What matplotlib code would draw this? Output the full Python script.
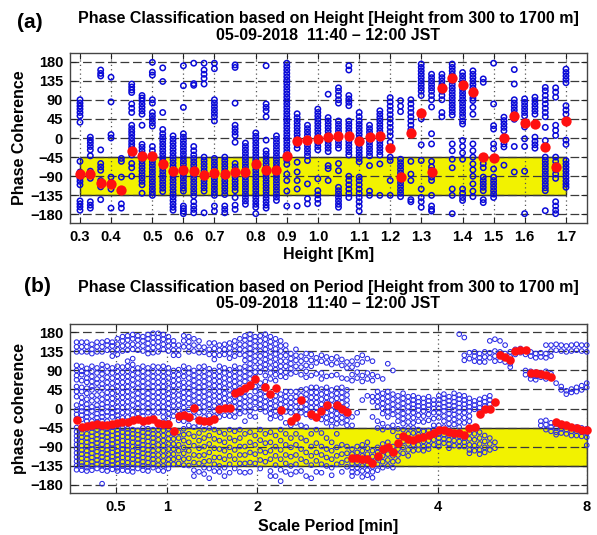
import matplotlib
matplotlib.use('Agg')
import matplotlib.pyplot as plt
from matplotlib.patches import Rectangle

plt.rcParams['font.family'] = ['Liberation Sans', 'DejaVu Sans']
plt.rcParams['font.weight'] = 'bold'

# ---------------- Panel (a) data ----------------
heights_km = [0.30, 0.33, 0.36, 0.39, 0.42, 0.45, 0.48, 0.51, 0.54, 0.57, 0.60, 0.63,
              0.66, 0.69, 0.72, 0.75, 0.78, 0.81, 0.84, 0.87, 0.90, 0.93, 0.96, 0.99,
              1.02, 1.05, 1.08, 1.11, 1.14, 1.17, 1.20, 1.23, 1.26, 1.29, 1.32, 1.35,
              1.38, 1.41, 1.44, 1.47, 1.50, 1.53, 1.56, 1.59, 1.62, 1.65, 1.68, 1.71]
a_tick_pos = [0.30, 0.39, 0.51, 0.60, 0.69, 0.81, 0.90, 0.99, 1.11, 1.20, 1.29, 1.41, 1.50, 1.59, 1.71]
a_tick_labels = ['0.3', '0.4', '0.5', '0.6', '0.7', '0.8', '0.9', '1.0', '1.1', '1.2', '1.3',
                 '1.4', '1.5', '1.6', '1.7']
red_a = [-85, -85, -106, -109, -122, -31, -42, -42, -61, -77, -75, -77, -88, -83, -85, -79,
         -79, -61, -75, -75, -43, -8, -4, -2, 2, 5, 5, -8, 2, 5, -24, -92,
         12, 60, -79, 117, 141, 124, 108, -45, -48, 0, 51, 35, 33, -22, -68, 39]
blue_a = [
    [90, 82, 75, 68, 60, 52, 37, -55, -80, -88, -95, -102, -110, -148, -155, -162, -170],
    [2, -5, -12, -20, -28, -42, -78, -88, -95, -150, -158, -165],
    [160, 152, 146, -28, -60, -68, -76, -100, -108, -115, -145],
    [143, 85, 8, 0, -92, -105, -120, -165],
    [-48, -55, -92, -125, -155, -165],
    [127, 120, 113, 107, 80, 70, 60, 30, 22, 15, 8, 0, -8, -15, -22, -40, -60, -70, -90],
    [100, 94, 88, 80, 72, 64, 56, 30, -15, -22, -30, -38, -46, -54, -62, -70, -78, -86, -94, -102, -110, -130],
    [178, 155, 148, 90, 82, 60, 52, 44, 36, 28, -20, -30, -40, -48, -56, -64, -72, -80, -88, -96, -104, -112, -120, -128, -135],
    [165, 133, 60, 20, 10, 2, -6, -14, -22, -30, -38, -46, -54, -62, -70, -78, -86, -94, -102, -110, -118, -126],
    [5, -3, -11, -19, -27, -35, -43, -51, -59, -67, -75, -83, -91, -99, -107, -115, -123, -131, -139, -147, -155, -163, -170],
    [170, 123, 72, 10, 2, -6, -14, -22, -30, -38, -46, -54, -62, -70, -78, -86, -94, -102, -110, -118, -125, -160, -166, -172, -178],
    [176, 128, 124, -20, -30, -40, -48, -56, -64, -72, -80, -88, -96, -104, -112, -120, -128, -136, -150, -160, -168, -176],
    [176, 160, 150, 140, 127, -45, -53, -61, -69, -77, -85, -93, -101, -109, -117, -125, -176],
    [176, 163, 90, 82, 74, 66, 58, 50, 40, -48, -56, -64, -72, -80, -88, -96, -104, -112, -120, -128, -135, -160, -172],
    [-45, -53, -61, -69, -77, -85, -93, -101, -109, -117, -125, -133, -160, -168, -176],
    [172, 166, 82, 30, 22, 14, 6, -10, -60, -68, -76, -84, -92, -100, -108, -116, -124, -140, -158, -168],
    [-12, -20, -28, -36, -44, -52, -60, -68, -76, -84, -92, -100, -108, -116, -124, -132, -140, -148, -156],
    [12, 4, -4, -12, -20, -28, -36, -44, -52, -60, -68, -76, -84, -92, -100, -108, -116, -124, -132, -140, -148, -156, -163, -178],
    [170, 80, 72, 64, 50, -5, -30, -38, -46, -54, -62, -70, -78, -86, -94, -102, -110, -118, -126, -134, -142, -150, -158, -165],
    [5, -3, -11, -19, -27, -35, -43, -51, -59, -67, -75, -83, -91, -99, -107, -115, -123, -131, -139, -147],
    [176, 168, 160, 152, 144, 136, 128, 120, 112, 104, 96, 88, 80, 72, 64, 56, 48, 40, 32, 24, 16, 8, 0, -8, -16, -24, -32, -40, -52, -62, -85, -100, -125, -160],
    [57, 48, 40, 32, 24, 16, 8, 0, -8, -16, -24, -57, -80, -100, -120, -160],
    [30, 22, 14, 6, -2, -10, -18, -26, -34, -42, -53, -108, -143, -155],
    [68, 60, 52, 44, 36, 28, 20, 12, 4, -4, -12, -20, -28, -96, -124, -134, -144, -154],
    [103, 48, 40, 32, 24, 16, 8, 0, -8, -16, -24, -32, -65, -72, -100],
    [118, 110, 100, 90, 82, 40, 32, 24, 16, 8, 0, -8, -16, -24, -60, -77, -116, -124, -132, -140, -148, -156, -163],
    [170, 160, 100, 92, 84, 76, 40, 32, 24, 16, 8, 0, -8, -16, -24, -32, -40, -90, -100, -110, -120, -130, -140],
    [60, 50, 40, 32, 24, 16, 8, 0, -8, -16, -24, -32, -40, -48, -56, -92, -100, -110, -120, -130, -140, -150, -160, -172],
    [30, 22, 14, 6, -2, -10, -18, -26, -34, -42, -65, -125, -135],
    [64, 56, 48, 40, 32, 24, 16, 8, 0, -8, -16, -24, -32, -40, -61, -135],
    [95, 85, 75, 65, 55, 45, 35, 25, 15, 5, -10, -45, -53, -100, -135],
    [88, 75, 62, -50, -58, -66, -74, -82, -90, -98, -106, -114, -122, -130, -138],
    [90, 80, 70, 60, 50, 40, 30, 20, -55, -85, -100, -145, -150],
    [174, 166, 158, 150, 142, 134, 126, 118, 110, 100, 45, -16, -53, -120, -140, -150, -163],
    [150, 142, 134, 126, 118, 110, 100, 90, 73, 10, -14, -55, -68, -76, -84, -92, -100, -135, -160, -168, -172],
    [150, 142, 134, 126, 110, 100, 90, 60, 50],
    [174, 166, 158, 150, 142, 134, 126, 118, 110, 102, 94, 86, 78, 70, 62, 54, -14, -30, -50, -70, -120, -135, -178],
    [154, 146, 138, 130, 122, 114, 106, 98, 90, 82, 74, 66, 58, 50, 40, 33, -6, -20, -35, -50, -120, -130, -140, -147],
    [158, 150, 142, 134, 126, 118, 110, 102, 94, 88, 72, 56, -14, -30, -45, -61, -75, -90, -108, -125, -138],
    [139, 131, -60, -70, -92, -100, -108, -116, -124, -145, -152],
    [176, 80, 29, 21, -14, -25, -73, -92, -100, -108, -116, -124, -132, -140],
    [49, 41, 33, 25, 17, -5, -14, -21, -64],
    [161, 127, 90, 82, 74, 66, 58, 44, -20, -80],
    [92, 84, 76, 68, 60, 52, 26, -2, -20, -78, -178],
    [96, 88, 80, 72, 64, 56, 2, -8, -16, -24],
    [119, 111, 100, 90, 80, 70, 60, 50, 25, -6, -45, -53, -61, -69, -77, -85, -93, -101, -109, -117, -124, -171],
    [118, 108, 96, 30, 18, 6, -45, -55, -65, -75, -85, -95, -150, -160, -170, -178],
    [162, 154, 146, 138, 130, 76, 66, 56, -5, -15, -53, -61, -69, -77, -85, -93, -101, -109, -116],
]

# ---------------- Panel (b) data ----------------
scale_index = list(range(101))
b_tick_pos = [7.64, 17.76, 35.44, 70.8, 100.0]
b_tick_labels = ['0.5', '1', '2', '4', '8']
red_b_idx = [0, 1, 2, 3, 4, 5, 6, 7, 8, 9, 10, 11, 12, 13, 14, 15, 16, 17, 18, 19, 20, 21, 22, 23,
             24, 25, 26, 27, 28, 29, 30, 31, 32, 33, 34, 35, 37, 38, 39, 40, 42, 43, 44, 46, 47,
             48, 49, 51, 52, 53, 54, 55, 56, 57, 58, 59, 60, 61, 62, 63, 64, 65, 66, 67, 68, 69,
             70, 71, 72, 73, 74, 75, 76, 77, 78, 79, 80, 81, 82, 83, 84, 85, 86, 87, 88, 89, 90,
             91, 92, 93, 94, 95, 96, 97, 98, 99, 100]
red_b_val = [-28, -43, -41, -40, -37, -39, -39, -37, -35, -31, -31, -28, -24, -30, -28, -24, -35,
             -37, -37, -54, -17, -16, -20, 2, -28, -29, -30, -24, 0, 2, 2, 37, 42, 48, 56, 71, 52,
             35, 48, -4, -29, -21, 20, -12, -21, -5, 9, 8, 0, -8, -116, -118, -120, -120, -130,
             -112, -96, -91, -104, -81, -65, -72, -75, -71, -67, -63, -59, -51, -51, -55, -57,
             -59, -63, -45, -43, -12, -2, 0, 16, 126, 122, 114, 136, 139, 139, 85, 84, 82, 79,
             75, -31, -36, -40, -44, -47, -50, -51]
blue_b = [
    [157, 146, 134, 102, 90, 78, 68, 52, 40, 28, 8, -4, -14, -24, -45, -55, -65, -75, -85, -95, -105, -115, -125, -135, -145],
    [157, 146, 134, 100, 88, 80, 66, 50, 40, 26, 14, 2, -6, -16, -26, -50, -58, -68, -78, -88, -98, -108, -118, -128, -136, -146],
    [157, 146, 134, 95, 84, 72, 62, 48, 36, 22, 10, 0, -10, -20, -30, -48, -60, -70, -80, -90, -100, -110, -120, -130, -140, -148],
    [152, 140, 130, 100, 88, 76, 64, 52, 44, 30, 18, 4, -6, -18, -30, -46, -56, -66, -76, -86, -96, -106, -116, -126, -136, -146],
    [157, 146, 134, 96, 84, 70, 60, 46, 32, 20, 8, -2, -12, -22, -32, -50, -62, -72, -82, -92, -102, -112, -122, -132, -142],
    [157, 146, 134, 104, 92, 82, 70, 58, 48, 34, 22, 10, 0, -10, -20, -30, -45, -55, -65, -75, -85, -95, -105, -115, -125, -135, -146, -178],
    [160, 150, 138, 100, 86, 74, 62, 50, 38, 26, 14, 4, -8, -18, -30, -48, -58, -68, -78, -88, -98, -108, -118, -128, -138, -148],
    [157, 148, 136, 124, 96, 84, 72, 60, 48, 36, 24, 12, 0, -10, -20, -44, -54, -64, -74, -84, -94, -104, -114, -124, -134, -144],
    [165, 152, 140, 128, 100, 88, 76, 64, 52, 40, 28, 16, 4, -6, -16, -26, -50, -60, -70, -80, -90, -100, -110, -120, -130, -140, -148],
    [170, 160, 148, 136, 98, 86, 74, 62, 50, 38, 26, 14, 2, -10, -22, -46, -56, -66, -76, -86, -96, -106, -116, -126, -136, -146],
    [172, 162, 150, 138, 112, 100, 88, 76, 64, 52, 40, 28, 16, 4, -8, -20, -48, -58, -68, -78, -88, -98, -108, -118, -128, -138, -148],
    [175, 165, 152, 140, 118, 104, 92, 80, 68, 56, 44, 32, 20, 8, -4, -16, -50, -60, -70, -80, -90, -100, -110, -120, -130, -140, -150],
    [172, 162, 150, 138, 96, 84, 72, 60, 48, 36, 24, 12, 0, -12, -24, -52, -62, -72, -82, -92, -102, -112, -122, -132, -142],
    [170, 160, 148, 136, 100, 88, 76, 64, 52, 40, 28, 16, 4, -8, -18, -46, -56, -66, -76, -86, -96, -106, -116, -126, -136, -146],
    [175, 165, 154, 142, 130, 96, 84, 72, 60, 48, 36, 24, 12, 0, -10, -48, -58, -68, -78, -88, -98, -108, -118, -128, -138, -148],
    [178, 168, 156, 144, 132, 100, 88, 76, 64, 52, 40, 28, 16, 4, -8, -20, -50, -60, -70, -80, -90, -100, -110, -120, -130, -140],
    [178, 168, 158, 146, 134, 98, 86, 74, 62, 50, 38, 26, 14, 2, -10, -50, -62, -74, -86, -98, -110, -122, -134, -146],
    [175, 164, 152, 140, 100, 88, 76, 64, 52, 40, 28, 16, 4, -8, -20, -32, -52, -64, -76, -88, -100, -112, -124, -136, -148],
    [170, 160, 148, 136, 96, 84, 72, 60, 48, 36, 24, 12, 0, -12, -24, -48, -60, -72, -84, -96, -108, -120, -132, -142],
    [160, 150, 138, 126, 90, 78, 66, 54, 42, 30, 18, 6, -6, -18, -60, -72, -84, -96, -108, -120, -132],
    [150, 138, 126, 92, 80, 68, 56, 44, 32, 20, 8, -4, -28, -56, -70, -86, -100, -116, -130],
    [172, 160, 146, 100, 88, 76, 62, 50, 38, 26, 14, 2, -10, -30, -48, -62, -76, -92, -106, -120, -134],
    [170, 158, 146, 134, 96, 84, 72, 60, 48, 36, 24, 12, -2, -26, -40, -60, -80, -100, -118, -135],
    [165, 150, 136, 90, 78, 66, 54, 42, 30, 18, 6, -8, -20, -44, -66, -88, -110, -128, -146, -160],
    [160, 146, 132, 98, 86, 74, 62, 50, 38, 26, 14, 2, -10, -40, -58, -76, -94, -112, -130, -150],
    [145, 133, 100, 88, 76, 64, 52, 40, 28, 16, 4, -8, -20, -50, -70, -90, -110, -126, -140, -155],
    [155, 140, 128, 94, 82, 70, 58, 46, 34, 22, 10, -2, -16, -46, -64, -84, -104, -124, -142, -165],
    [155, 142, 128, 116, 90, 78, 66, 54, 42, 30, 18, 6, -6, -18, -50, -72, -94, -116, -132, -148],
    [150, 138, 126, 100, 88, 76, 64, 52, 40, 28, 16, 4, -8, -20, -56, -76, -96, -116, -136, -150],
    [152, 140, 128, 96, 84, 72, 60, 48, 36, 24, 12, -2, -16, -60, -80, -100, -120, -140, -160],
    [155, 143, 131, 119, 92, 80, 68, 56, 44, 32, 20, 8, -6, -18, -50, -70, -92, -112, -132, -152],
    [160, 148, 136, 124, 100, 88, 76, 64, 52, 40, 28, 16, 4, -8, -20, -54, -76, -98, -120, -142],
    [165, 152, 140, 128, 96, 84, 72, 60, 48, 36, 24, 12, 0, -12, -50, -70, -90, -110, -130, -150],
    [172, 162, 150, 138, 126, 114, 100, 88, 76, 64, 40, 28, 16, 4, -8, -30, -60, -90, -110, -130, -152],
    [176, 165, 154, 142, 130, 118, 106, 94, 82, 70, 30, 18, 6, -6, -18, -56, -80, -104, -128, -150],
    [170, 160, 148, 136, 124, 112, 98, 86, 74, 52, 40, 26, 14, 0, -20, -64, -86, -108, -130],
    [172, 160, 148, 136, 124, 110, 98, 86, 60, 46, 34, 22, 10, -2, -50, -75, -100, -122, -142],
    [176, 164, 152, 140, 128, 116, 104, 92, 78, 64, 40, 28, 16, 4, -8, -60, -82, -104, -126],
    [170, 158, 146, 134, 122, 110, 96, 84, 70, 24, 12, 0, -12, -24, -56, -80, -100, -120, -148, -160],
    [165, 153, 141, 129, 117, 104, 92, 80, 66, 30, 18, 6, -6, -18, -64, -90, -112, -134, -160],
    [160, 148, 136, 124, 112, 100, 88, 76, 34, 22, 10, -10, -22, -50, -76, -98, -120, -145, -172],
    [150, 138, 126, 112, 100, 86, 74, 40, 28, 16, 4, -8, -34, -60, -86, -110, -130, -150],
    [130, 118, 106, 94, 82, 40, 26, 14, 2, -10, -40, -70, -92, -114, -136, -156],
    [140, 126, 114, 100, 86, 40, 28, 16, 4, -8, -34, -60, -86, -110, -132, -150],
    [124, 112, 98, 80, 44, 30, 16, 4, -10, -40, -70, -96, -120, -148],
    [130, 116, 102, 88, 74, 46, 34, 22, 10, -2, -14, -44, -76, -104, -126, -160],
    [128, 114, 100, 78, 50, 38, 26, 14, 2, -10, -20, -60, -90, -112, -134, -165],
    [120, 108, 82, 50, 38, 26, 14, 2, -10, -22, -50, -82, -104, -124, -150],
    [126, 112, 84, 70, 46, 34, 22, 10, -2, -14, -26, -58, -90, -110, -132, -152],
    [122, 108, 76, 50, 38, 26, 14, 2, -10, -22, -34, -70, -96, -116, -136],
    [118, 104, 78, 44, 32, 20, 8, -4, -16, -28, -42, -80, -100, -120, -140, -158],
    [122, 108, 80, 48, 36, 24, 12, 0, -12, -24, -36, -60, -92, -112, -132],
    [116, 102, 72, 50, 38, 26, 14, 2, -10, -22, -34, -86, -108, -128, -150],
    [110, 96, 70, 44, 32, 20, 8, -4, -16, -28, -40, -90, -106, -122, -138],
    [112, 98, 80, 66, -20, -40, -96, -108, -120, -130, -140, -150, -160],
    [120, 104, 86, 72, -10, -90, -104, -116, -128, -140, -152],
    [126, 110, 78, 64, 20, -86, -100, -112, -124, -136, -148, -162],
    [118, 84, 70, 30, -80, -94, -108, -122, -134, -146, -158],
    [112, 80, 66, 28, 16, -20, -100, -114, -126, -138, -150, -164],
    [76, 40, 28, 16, 4, -30, -46, -92, -104, -118, -132, -146],
    [70, 36, 24, 12, 0, -12, -36, -50, -84, -98, -112, -126, -140],
    [106, 40, 28, 16, 4, -8, -20, -44, -80, -94, -108, -122, -136],
    [90, 34, 22, 10, -2, -14, -40, -54, -90, -112, -126, -140],
    [30, 18, 6, -6, -18, -30, -48, -66, -96, -110, -124],
    [36, 24, 12, 0, -12, -24, -36, -50, -78, -92, -106],
    [28, 16, 4, -8, -20, -32, -46, -60, -84, -98, -112],
    [30, 20, 10, 0, -10, -22, -34, -46, -58, -86, -100],
    [26, 16, 6, -4, -16, -30, -50, -62, -74, -86, -98],
    [24, 14, 4, -6, -18, -32, -54, -66, -78, -90, -100],
    [28, 18, 8, -2, -14, -28, -52, -64, -76, -88, -96],
    [20, 10, 0, -10, -24, -40, -50, -62, -74, -86],
    [30, 20, 10, 0, -10, -22, -40, -60, -70, -80, -90],
    [34, 24, 14, 4, -6, -18, -30, -44, -62, -72, -82],
    [28, 18, 8, -2, -12, -24, -36, -48, -64, -74, -84, -94],
    [36, 26, 16, 6, -4, -14, -26, -38, -64, -76, -88],
    [176, 32, 22, 12, 2, -8, -20, -32, -44, -66, -78, -90],
    [168, 126, 114, 30, 20, 10, 0, -10, -22, -34, -70, -80, -90],
    [132, 118, 24, 14, 4, -6, -18, -30, -58, -72, -86, -98, -106],
    [134, 124, 112, 18, 8, -2, -60, -74, -88, -100],
    [130, 120, 110, 22, 12, 2, -8, -56, -70, -84, -98, -108],
    [134, 122, 110, 26, 16, 6, -4, -64, -78, -92, -104],
    [160, 132, 120, 30, 20, 10, -70, -84, -98],
    [164, 136, 124, 112, -80, -94],
    [160, 134, 124, 114],
    [150, 130, 120, 110],
    [134, 122, 106, 98],
    [140, 128],
    [142, 132],
    [136, 128, 90, 80],
    [134, 124, 88, 78, 70],
    [130, 120, 86, 76, 68],
    [132, 122, 84, 74, -30, -40],
    [150, 130, 120, 88, 78, 70, -28, -38, -50],
    [150, 136, 124, 82, 72, -34, -44, -54],
    [152, 138, 60, -36, -46, -56, -62],
    [150, 136, 52, 44, -38, -48, -58],
    [148, 134, 42, 34, -40, -50, -60],
    [150, 136, 46, 38, -44, -54, -64],
    [152, 138, 50, 40, -44, -54, -64],
    [150, 136, 54, 44, -46, -56, -66],
    [150, 134, 60, 50, -48, -58, -68, -87],
]

phase_ticks = [-180, -135, -90, -45, 0, 45, 90, 135, 180]
band_low, band_high = -135, -45

BLUE_A = '#0a0ad8'
BLUE_B = '#2a2ae6'
RED = '#ff1010'
YELLOW = '#f2f200'
GRIDC = '#3a3a3a'

W, H = 597, 535
fig = plt.figure(figsize=(W / 100, H / 100), dpi=100)
fig.patch.set_facecolor('white')


def style_axes(ax):
    ax.set_ylim(-200, 200)
    ax.set_yticks(phase_ticks)
    ax.set_axisbelow('line')
    ax.grid(axis='y', linestyle=(0, (7, 3)), color=GRIDC, linewidth=0.9)
    ax.grid(axis='x', linestyle=(0, (1, 2.5)), color='#555555', linewidth=0.9)
    ax.tick_params(direction='in', top=True, right=True, length=4, width=0.8,
                   labelsize=10.5, pad=5, colors='#222222')
    for lab in ax.get_xticklabels() + ax.get_yticklabels():
        lab.set_fontweight('bold')
        lab.set_color('black')
    for s in ax.spines.values():
        s.set_color('#444444')
        s.set_linewidth(1.0)


# ---------- Panel (a) ----------
axa = fig.add_axes([70 / W, 1 - 223 / H, 517 / W, 170 / H])
axa.set_xlim(0.271, 1.771)
axa.add_patch(Rectangle((heights_km[0], band_low), heights_km[-1] - heights_km[0],
                        band_high - band_low, facecolor=YELLOW, edgecolor='#2a2a2a',
                        linewidth=1.0, zorder=1))
xa, ya = [], []
for h, vals in zip(heights_km, blue_a):
    xa.extend([h] * len(vals))
    ya.extend(vals)
axa.scatter(xa, ya, s=15, facecolors='none', edgecolors=BLUE_A, linewidths=1.1, zorder=3)
axa.scatter(heights_km, red_a, s=55, color=RED, zorder=4, linewidths=0)
axa.set_xticks(a_tick_pos)
axa.set_xticklabels(a_tick_labels)
style_axes(axa)

# ---------- Panel (b) ----------
axb = fig.add_axes([70 / W, 1 - 493 / H, 517 / W, 169 / H])
axb.set_xlim(-1.29, 100.05)
axb.add_patch(Rectangle((scale_index[0], band_low), scale_index[-1] - scale_index[0],
                        band_high - band_low, facecolor=YELLOW, edgecolor='#2a2a2a',
                        linewidth=1.0, zorder=1))
xb, yb = [], []
for i, vals in zip(scale_index, blue_b):
    xb.extend([i] * len(vals))
    yb.extend(vals)
axb.scatter(xb, yb, s=11, facecolors='none', edgecolors=BLUE_B, linewidths=0.75, zorder=3,
            clip_on=False)
axb.scatter(red_b_idx, red_b_val, s=38, color=RED, zorder=4, linewidths=0, clip_on=False)
axb.set_xticks(b_tick_pos)
axb.set_xticklabels(b_tick_labels)
style_axes(axb)

# ---------- Texts ----------
cx = 328.5 / W
fig.text(30 / W, 1 - 23 / H, '(a)', fontsize=15, fontweight='bold', ha='center', va='center')
fig.text(cx, 1 - 18.5 / H, 'Phase Classification based on Height [Height from 300 to 1700 m]',
         fontsize=11.5, fontweight='bold', ha='center', va='center')
fig.text(cx, 1 - 36 / H, '05-09-2018  11:40 \u2013 12:00 JST',
         fontsize=11.5, fontweight='bold', ha='center', va='center')
fig.text(20 / W, 1 - 138 / H, 'Phase Coherence', fontsize=11.5, fontweight='bold',
         rotation=90, ha='center', va='center')
fig.text(cx, 1 - 255 / H, 'Height [Km]', fontsize=11.5, fontweight='bold',
         ha='center', va='center')

fig.text(37 / W, 1 - 286 / H, '(b)', fontsize=15, fontweight='bold', ha='center', va='center')
fig.text(cx, 1 - 287.5 / H, 'Phase Classification based on Period [Height from 300 to 1700 m]',
         fontsize=11.5, fontweight='bold', ha='center', va='center')
fig.text(cx, 1 - 304 / H, '05-09-2018  11:40 \u2013 12:00 JST',
         fontsize=11.5, fontweight='bold', ha='center', va='center')
fig.text(20 / W, 1 - 408.5 / H, 'phase coherence', fontsize=11.5, fontweight='bold',
         rotation=90, ha='center', va='center')
fig.text(cx, 1 - 526 / H, 'Scale Period [min]', fontsize=11.5, fontweight='bold',
         ha='center', va='center')

fig.savefig('out.png', dpi=100, facecolor='white')
